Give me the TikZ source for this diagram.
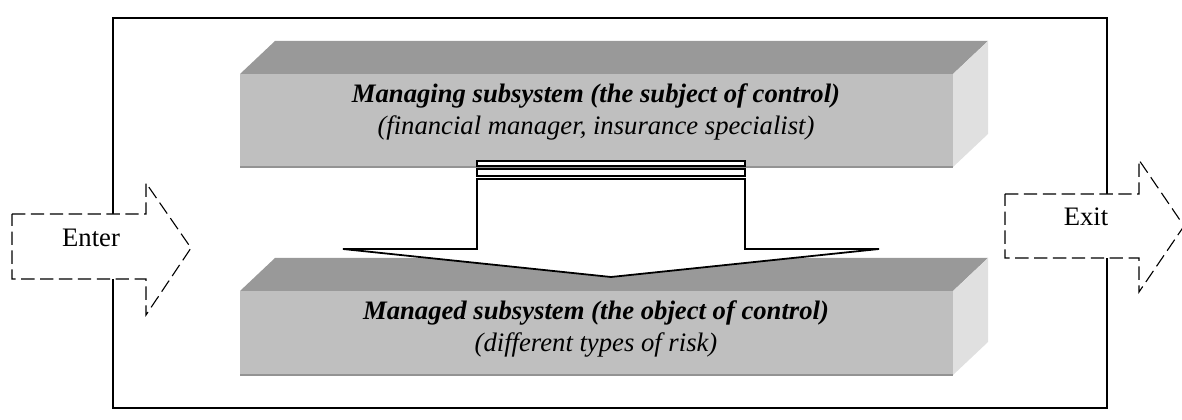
\documentclass[tikz,border=0pt]{standalone}
\usepackage{fontspec}
\setmainfont{Liberation Serif}
\definecolor{facetop}{gray}{0.6}
\definecolor{facefront}{gray}{0.75}
\definecolor{faceside}{gray}{0.88}
\tikzset{
  topface/.style={fill=facetop},
  frontface/.style={fill=facefront},
  sideface/.style={fill=faceside},
  iolabel/.style={font=\fontsize{12}{14}\selectfont},
  boxlabel/.style={align=center, font=\fontsize{12}{14.8}\selectfont},
  ioarrow/.style={draw, fill=white, line width=0.5pt, dash pattern=on 6pt off 2.5pt},
  flowarrow/.style={draw, fill=white, line width=0.8pt, line join=miter}
}
\begin{document}
\begin{tikzpicture}[x=0.45pt, y=-0.45pt]
\useasboundingbox (0,0) rectangle (1182,420);

% Outer frame of the system
\coordinate (F1) at (113,18);
\coordinate (F2) at (1107,408);
\draw[line width=0.8pt] (F1) rectangle (F2);

% Two subsystem blocks (front face top/bottom), depth of the block is (35,33)
\foreach \t/\b in {74/167, 291/375} {
    \fill[topface] (240,\t) -- (275,\t-33) -- (988,\t-33) -- (953,\t) -- cycle;
    \fill[sideface] (953,\t) -- (988,\t-33) -- (988,\b-33) -- (953,\b) -- cycle;
    \fill[frontface] (240,\t) rectangle (953,\b);
    \draw[gray!85, line width=0.6pt] (240,\b) -- (953,\b);
}

% Block labels
\node[boxlabel] (mgr) at (596,112) {\textbf{\textit{Managing subsystem (the subject of control)}}\\
    \textit{(financial manager, insurance specialist)}};
\node[boxlabel] (obj) at (596,329) {\textbf{\textit{Managed subsystem (the object of control)}}\\
    \textit{(different types of risk)}};

% Control arrow from the managing to the managed subsystem
\coordinate (S) at (477,179);   % top left of shaft
\coordinate (T) at (611,277);   % tip
\draw[flowarrow, line width=1pt] (477,161) rectangle (745,166);
\draw[flowarrow, line width=1pt] (477,169) rectangle (745,176);
\draw[flowarrow] (S) -- ++(268,0) -- ++(0,70) -- ++(134,0) -- (T)
    -- (343,249) -- (477,249) -- cycle;

% Input and output arrows
\draw[ioarrow] (12,214) -- (146,214) -- (146,183) -- (191,248) -- (146,315)
    -- (146,279) -- (12,279) -- cycle;
\node[iolabel] (enter) at (91,238) {Enter};

\draw[ioarrow] (1005,194) -- (1139,194) -- (1139,160) -- (1184,226) -- (1139,292)
    -- (1139,258) -- (1005,258) -- cycle;
\node[iolabel] (exit) at (1086,217) {Exit};
\end{tikzpicture}
\end{document}
